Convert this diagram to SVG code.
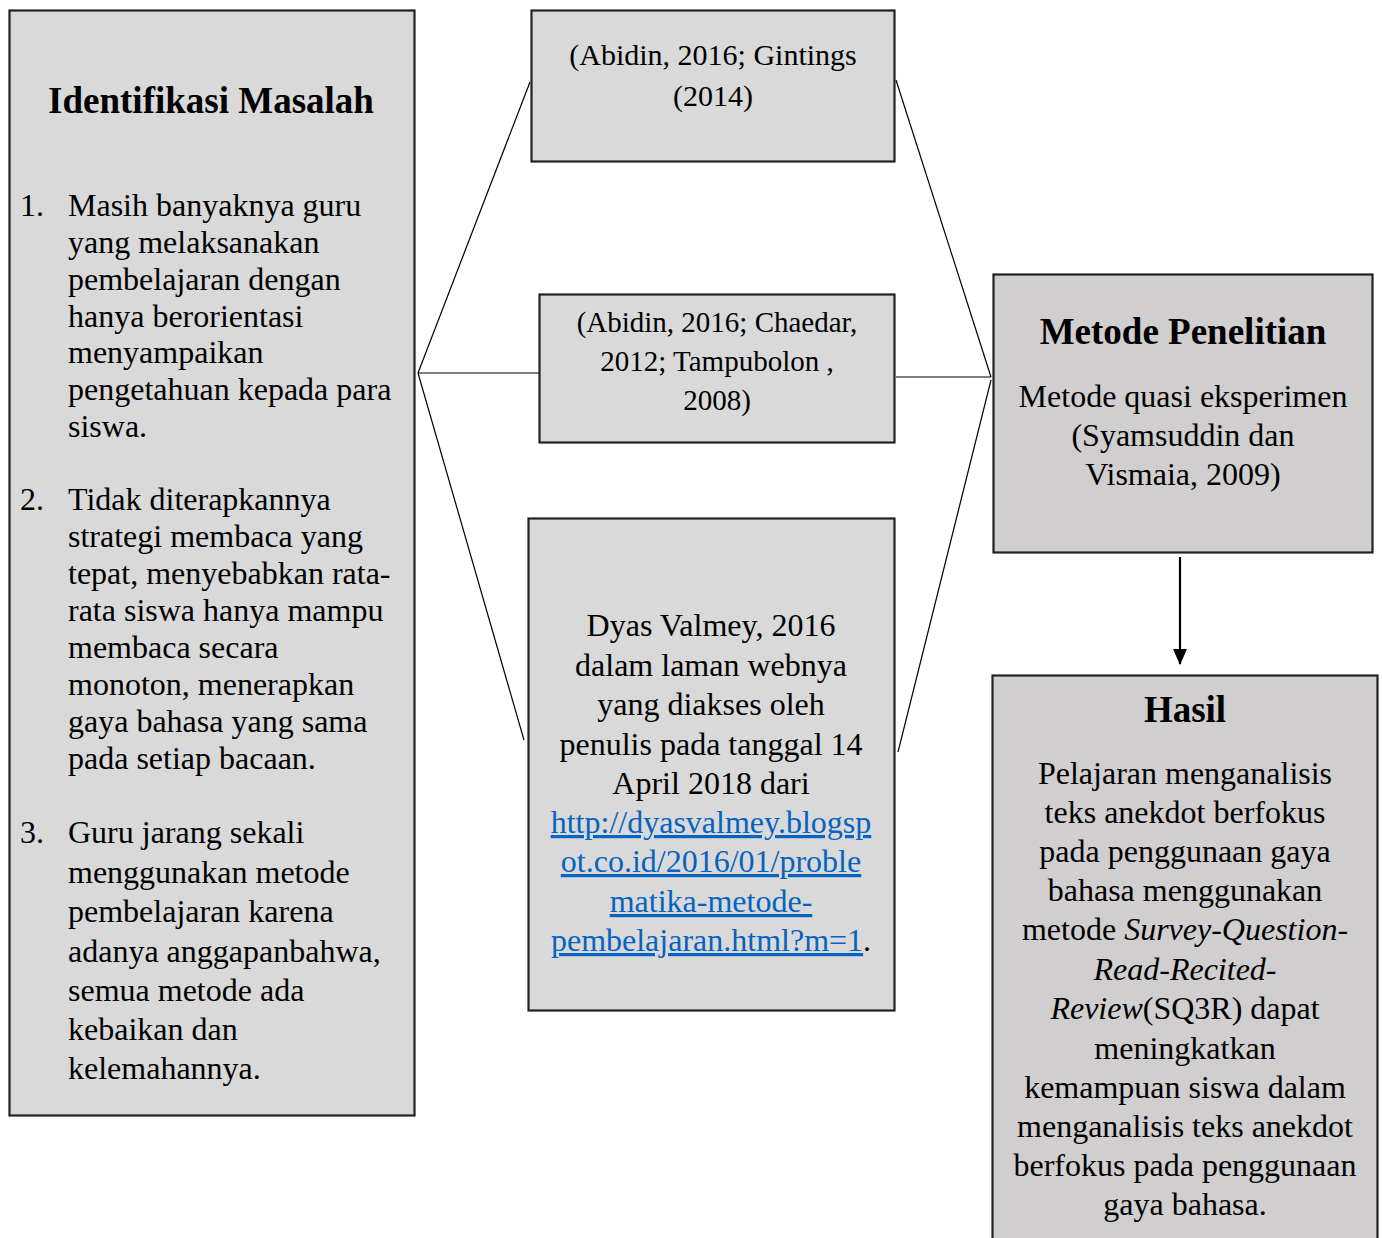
<svg xmlns="http://www.w3.org/2000/svg" width="1382" height="1238" viewBox="0 0 1382 1238">
<style>
.box{stroke:#222;stroke-width:2.2}
.g1{fill:#d9d9d9}
.g2{fill:#d0cece}
text{font-family:"Liberation Serif","Times New Roman",serif;fill:#000}
.t{font-size:32px}
.s{font-size:30px}
.s2{font-size:29px}
.h{font-size:37px;font-weight:bold}
.c{text-anchor:middle}
.link{fill:#0563c1;text-decoration:underline}
.conn line{stroke:#000;stroke-width:1.2}
.conn line.arrow{stroke-width:2.2}
</style>
<defs>
<marker id="arr" viewBox="0 0 16 14" refX="15" refY="7" markerWidth="16" markerHeight="14" markerUnits="userSpaceOnUse" orient="auto">
<path d="M0,0 L16,7 L0,14 z" fill="#000"/>
</marker>
</defs>
<rect width="1382" height="1238" fill="#fff"/>

<g class="conn" id="connectors">
<line x1="418" y1="373" x2="530" y2="82"/>
<line x1="418" y1="373" x2="539" y2="373"/>
<line x1="418" y1="373" x2="524" y2="740"/>
<line x1="896" y1="80" x2="991" y2="377"/>
<line x1="896" y1="377" x2="991" y2="377"/>
<line x1="898" y1="752" x2="991" y2="380"/>
<line class="arrow" x1="1180" y1="557" x2="1180" y2="664" marker-end="url(#arr)"/>
</g>

<g id="identifikasi">
<rect class="box g1" x="9.5" y="10.5" width="405" height="1105"/>
<text class="h c" x="211" y="113">Identifikasi Masalah</text>
<g class="t">
<text x="20" y="216" class="t">1.</text>
<text x="68" y="216" class="t">Masih banyaknya guru</text>
<text x="68" y="253" class="t">yang melaksanakan</text>
<text x="68" y="290" class="t">pembelajaran dengan</text>
<text x="68" y="327" class="t">hanya berorientasi</text>
<text x="68" y="363" class="t">menyampaikan</text>
<text x="68" y="400" class="t">pengetahuan kepada para</text>
<text x="68" y="437" class="t">siswa.</text>
<text x="20" y="510" class="t">2.</text>
<text x="68" y="510" class="t">Tidak diterapkannya</text>
<text x="68" y="547" class="t">strategi membaca yang</text>
<text x="68" y="584" class="t">tepat, menyebabkan rata-</text>
<text x="68" y="621" class="t">rata siswa hanya mampu</text>
<text x="68" y="658" class="t">membaca secara</text>
<text x="68" y="695" class="t">monoton, menerapkan</text>
<text x="68" y="732" class="t">gaya bahasa yang sama</text>
<text x="68" y="769" class="t">pada setiap bacaan.</text>
<text x="20" y="843" class="t">3.</text>
<text x="68" y="843" class="t">Guru jarang sekali</text>
<text x="68" y="883" class="t">menggunakan metode</text>
<text x="68" y="922" class="t">pembelajaran karena</text>
<text x="68" y="962" class="t">adanya anggapanbahwa,</text>
<text x="68" y="1001" class="t">semua metode ada</text>
<text x="68" y="1040" class="t">kebaikan dan</text>
<text x="68" y="1079" class="t">kelemahannya.</text>
</g>
</g>

<g id="ref1">
<rect class="box g1" x="531.5" y="10.5" width="363" height="151"/>
<text class="s c" x="713" y="65">(Abidin, 2016; Gintings</text>
<text class="s c" x="713" y="106">(2014)</text>
</g>

<g id="ref2">
<rect class="box g1" x="539.5" y="294.5" width="355" height="148"/>
<text class="s2 c" x="717" y="332">(Abidin, 2016; Chaedar,</text>
<text class="s2 c" x="717" y="371">2012; Tampubolon ,</text>
<text class="s2 c" x="717" y="410">2008)</text>
</g>

<g id="ref3">
<rect class="box g1" x="528.5" y="518.5" width="366" height="492"/>
<text class="t c" x="711" y="636">Dyas Valmey, 2016</text>
<text class="t c" x="711" y="676">dalam laman webnya</text>
<text class="t c" x="711" y="715">yang diakses oleh</text>
<text class="t c" x="711" y="755">penulis pada tanggal 14</text>
<text class="t c" x="711" y="794">April 2018 dari</text>
<text class="t c link" x="711" y="833">http://dyasvalmey.blogsp</text>
<text class="t c link" x="711" y="872">ot.co.id/2016/01/proble</text>
<text class="t c link" x="711" y="912">matika-metode-</text>
<text class="t c" x="711" y="951"><tspan class="link">pembelajaran.html?m=1</tspan>.</text>
</g>

<g id="metode">
<rect class="box g2" x="993.5" y="274.5" width="379" height="278"/>
<text class="h c" x="1183" y="344">Metode Penelitian</text>
<text class="t c" x="1183" y="407">Metode quasi eksperimen</text>
<text class="t c" x="1183" y="446">(Syamsuddin dan</text>
<text class="t c" x="1183" y="485">Vismaia, 2009)</text>
</g>

<g id="hasil">
<rect class="box g2" x="992.5" y="675.5" width="385" height="580"/>
<text class="h c" x="1185" y="722">Hasil</text>
<text class="t c" x="1185" y="784">Pelajaran menganalisis</text>
<text class="t c" x="1185" y="823">teks anekdot berfokus</text>
<text class="t c" x="1185" y="862">pada penggunaan gaya</text>
<text class="t c" x="1185" y="901">bahasa menggunakan</text>
<text class="t c" x="1185" y="940">metode <tspan font-style="italic">Survey-Question-</tspan></text>
<text class="t c" x="1185" y="980" font-style="italic">Read-Recited-</text>
<text class="t c" x="1185" y="1019"><tspan font-style="italic">Review</tspan>(SQ3R) dapat</text>
<text class="t c" x="1185" y="1059">meningkatkan</text>
<text class="t c" x="1185" y="1098">kemampuan siswa dalam</text>
<text class="t c" x="1185" y="1137">menganalisis teks anekdot</text>
<text class="t c" x="1185" y="1176">berfokus pada penggunaan</text>
<text class="t c" x="1185" y="1215">gaya bahasa.</text>
</g>
</svg>
